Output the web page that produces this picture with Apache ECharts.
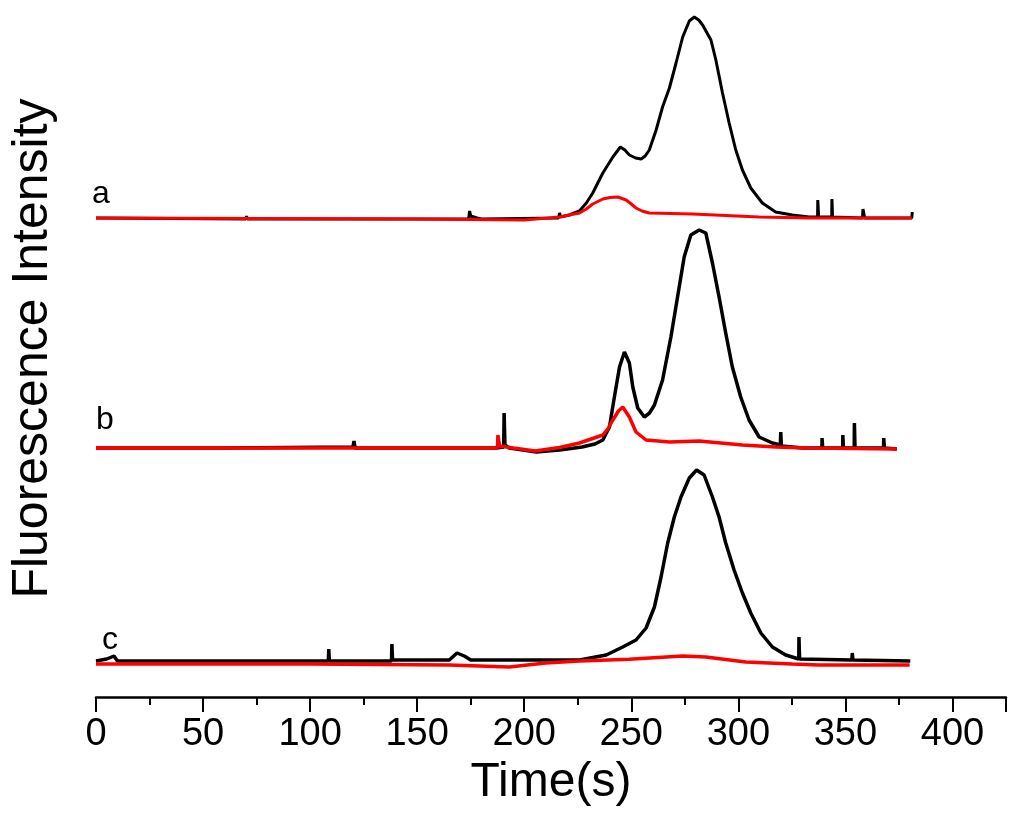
<!DOCTYPE html>
<html lang="en">
<head>
    <meta charset="UTF-8">
    <title>Fluorescence Intensity</title>
    <script src="https://cdn.jsdelivr.net/npm/echarts@6/dist/echarts.min.js"></script>
    <style>
        html, body { margin: 0; padding: 0; background: #fff; }
        #chart { width: 1024px; height: 827px; }
    </style>
</head>
<body>
<div id="chart"></div>
<script>
    // time (s) vs intensity (arbitrary units, traces stacked with offsets)
    let xTicks = [0, 50, 100, 150, 200, 250, 300, 350, 400];
    let traceLabels = ['a', 'b', 'c'];

    // trace a
    let blackA = [[0, 479], [70, 478], [70.3, 481], [70.6, 478], [165, 478], [174, 478], [174.5, 486], [175, 481],
        [178, 479], [180, 478], [216, 479], [216.5, 484], [217, 480], [221, 482], [225.8, 486], [229, 494], [232, 504],
        [236.7, 524], [241.4, 540], [244.9, 550], [247, 547], [249.1, 542], [252, 539], [254.6, 538], [256.5, 541],
        [258.4, 547], [261.6, 567], [264.6, 590], [267.8, 609], [270.9, 634], [274, 660], [277.1, 676], [279.4, 680],
        [281.5, 677], [283.3, 672], [287.2, 657], [289.5, 637], [292.6, 604], [295.7, 574], [298.8, 547],
        [301.9, 527], [305.8, 509], [311.2, 494], [317.4, 485], [325.2, 482], [333, 480], [337, 480], [337.1, 497],
        [337.5, 480], [343.6, 480], [343.7, 498], [344, 480], [358, 479], [358.2, 488], [359, 479], [381, 479],
        [381.2, 485]];
    let redA = [[0, 479], [150, 478], [200, 477], [216.5, 480], [221, 482], [225.8, 484], [229, 488], [232, 493],
        [236.7, 498], [240, 499.5], [243.7, 500], [247.6, 497], [250, 493], [252.2, 489], [255, 486], [258.4, 484],
        [278.6, 483], [309.7, 480], [333, 479], [381, 479]];

    // trace b
    let blackB = [[0, 249], [60, 249], [120, 250], [120.5, 256], [121, 249], [150, 249], [187, 249], [190.4, 250],
        [190.6, 284], [191, 252], [193, 249], [205.7, 245], [216.5, 247], [227, 250], [233, 253], [236.7, 257],
        [239.8, 270], [242.1, 300], [244.5, 330], [246.8, 345], [249.1, 334], [250.7, 310], [253, 289], [256.1, 280],
        [258.5, 284], [260.8, 292], [264.6, 317], [268.5, 360], [271.6, 400], [274.7, 440], [277.8, 462],
        [281.7, 467], [284.8, 464], [287.9, 434], [291, 400], [294.1, 364], [297.2, 330], [301.1, 300], [305, 277],
        [309.7, 260], [315.9, 254], [319.6, 252], [319.8, 265], [320.1, 251], [325.2, 250], [330, 249], [339, 249],
        [339.1, 259], [339.4, 249], [348.7, 249], [348.8, 262], [349.1, 249], [354.1, 249], [354.2, 274],
        [354.5, 249], [367.8, 249], [367.9, 259], [368.2, 249], [374, 248]];
    let redB = [[0, 249], [100, 249], [187.5, 249], [187.7, 262], [188.5, 251], [195, 249], [205, 246],
        [216.5, 249.5], [225.8, 254], [236.7, 262], [239, 268], [241.4, 277], [244, 286], [246, 290], [249.1, 280],
        [252.2, 265], [256.9, 257], [267.8, 255], [281.7, 256], [301.9, 252], [317.4, 250], [333, 249], [374, 248]];

    // trace c
    let blackC = [[0, 36], [5, 38], [8.4, 41], [10, 36], [50, 36], [100, 36], [108.5, 36], [108.7, 48], [109, 36],
        [138, 36], [138.2, 53], [138.5, 37], [165, 37], [168.6, 44], [172, 41], [175, 37], [219.6, 37], [225.8, 37],
        [238.3, 42], [246, 50], [252.2, 57], [256.9, 69], [260.8, 90], [263.9, 120], [267, 154], [270.1, 180],
        [273.2, 200], [277.1, 219], [280.5, 227], [284, 222], [287.9, 200], [291, 180], [294.1, 154], [298, 127],
        [301.9, 104], [305.8, 84], [310.5, 64], [315.9, 50], [322.1, 42], [328.2, 38], [328.3, 60], [328.6, 38],
        [353, 37], [353.2, 44], [353.5, 37], [380.3, 36]];
    let redC = [[0, 33], [100, 33], [165, 32], [193, 30], [210, 34], [225.8, 36], [249, 37.7], [274, 41],
        [284.8, 40], [303.4, 35], [325.2, 33], [337.6, 32], [380, 32]];

    let chart = echarts.init(document.getElementById('chart'));

    function trace(data, color, width) {
        return {
            type: 'line',
            data: data,
            showSymbol: false,
            symbol: 'none',
            lineStyle: {color: color, width: width},
            z: color === '#ff0000' ? 3 : 2
        };
    }

    let option = {
        animation: false,
        backgroundColor: '#ffffff',
        grid: {left: 95, right: 18, top: 0, bottom: 130},
        xAxis: {
            type: 'value',
            min: 0,
            max: 425,
            interval: 50,
            name: 'Time(s)',
            nameLocation: 'middle',
            nameGap: 58,
            nameTextStyle: {fontSize: 48, color: '#000', fontFamily: 'Liberation Sans, Arial, sans-serif'},
            axisLine: {lineStyle: {color: '#000', width: 2.5}},
            axisTick: {inside: false, length: 15, lineStyle: {color: '#000', width: 2}},
            minorTick: {show: true, splitNumber: 2, length: 8, lineStyle: {color: '#000', width: 2}},
            splitLine: {show: false},
            axisLabel: {
                fontSize: 38,
                color: '#000',
                margin: 19,
                fontFamily: 'Liberation Sans Narrow, Liberation Sans, Arial, sans-serif',
                formatter: function (v) {
                    return xTicks.indexOf(v) >= 0 ? String(v) : '';
                }
            }
        },
        yAxis: {
            type: 'value',
            min: 0,
            max: 697,
            name: 'Fluorescence Intensity',
            nameLocation: 'middle',
            nameGap: 38,
            nameTextStyle: {fontSize: 50, color: '#000', fontFamily: 'Liberation Sans, Arial, sans-serif'},
            axisLine: {show: false},
            axisTick: {show: false},
            axisLabel: {show: false},
            splitLine: {show: false}
        },
        graphic: [
            {type: 'text', left: 92, top: 178, style: {text: traceLabels[0], fontSize: 32, fill: '#000', fontFamily: 'Liberation Sans, Arial'}},
            {type: 'text', left: 96, top: 404, style: {text: traceLabels[1], fontSize: 32, fill: '#000', fontFamily: 'Liberation Sans, Arial'}},
            {type: 'text', left: 102, top: 624, style: {text: traceLabels[2], fontSize: 32, fill: '#000', fontFamily: 'Liberation Sans, Arial'}}
        ],
        series: [
            trace(blackA, '#000000', 3),
            trace(redA, '#ff0000', 3),
            trace(blackB, '#000000', 3.5),
            trace(redB, '#ff0000', 3.5),
            trace(blackC, '#000000', 3.5),
            trace(redC, '#ff0000', 3.5)
        ]
    };

    chart.setOption(option);
    window.addEventListener('resize', function () {
        chart.resize();
    });
</script>
</body>
</html>
